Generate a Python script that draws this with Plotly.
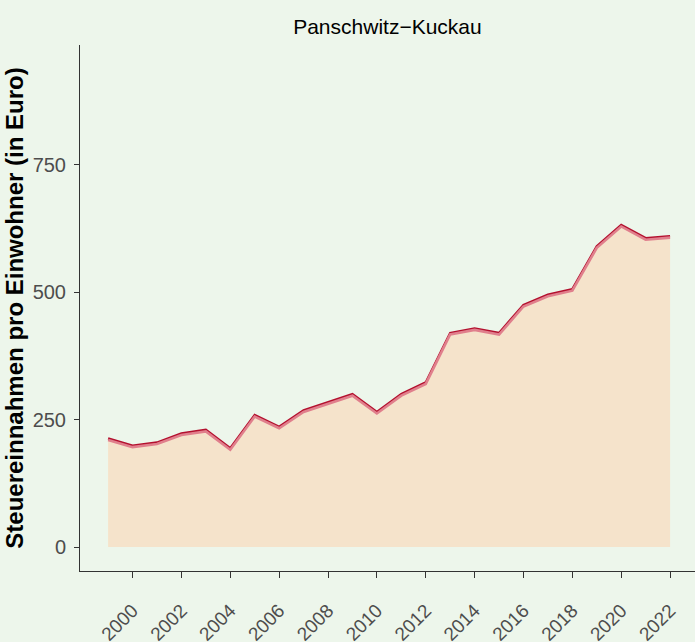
import plotly.graph_objects as go

years = list(range(1999, 2023))
values = [213, 199, 205, 223, 230, 194, 259, 236, 268, 284, 300, 265,
          300, 323, 420, 429, 420, 475, 495, 506, 590, 632, 606, 610]
tick_years = list(range(2000, 2023, 2))
tick_labels = [str(y) for y in tick_years]

title_text = "Panschwitz\u2212Kuckau"
y_title = "Steuereinnahmen pro Einwohner (in Euro)"

bg = "#EDF6EB"
fill_col = "#F5E3CB"
line_dark = "#B3102E"
line_shadow = "#E07F8C"
FONT = "Liberation Sans, Arial, sans-serif"

fig = go.Figure()
fig.add_trace(go.Scatter(x=years, y=values, mode="none", fill="tozeroy",
                         fillcolor=fill_col, hoverinfo="skip", showlegend=False))
fig.add_trace(go.Scatter(x=years, y=values, mode="lines", yaxis="y2",
                         line=dict(color=line_shadow, width=2.6), showlegend=False))
fig.add_trace(go.Scatter(x=years, y=values, mode="lines",
                         line=dict(color=line_dark, width=2.4), showlegend=False))

yr = [-47, 985]
fig.update_layout(
    width=695, height=642,
    paper_bgcolor=bg, plot_bgcolor=bg,
    margin=dict(l=80, r=0, t=45, b=71),
    font=dict(family=FONT, color="#4D4D4D"),
    title=dict(text=title_text, x=0.5575, xanchor="center", y=0.958, yanchor="middle",
               font=dict(family=FONT, size=21, color="#000000")),
    xaxis=dict(range=[1997.85, 2023.02], tickvals=tick_years, ticktext=tick_labels,
               tickangle=-45, ticks="outside", ticklen=6, tickcolor="#333333", tickwidth=1,
               showline=True, linecolor="#333333", linewidth=1, showgrid=False, zeroline=False,
               tickfont=dict(size=19, color="#4D4D4D"), ticklabelstandoff=14,
               automargin=False),
    yaxis=dict(range=yr, tickvals=[0, 250, 500, 750], ticks="outside", ticklen=5,
               tickcolor="#333333", showline=True, linecolor="#333333", linewidth=1,
               showgrid=False, zeroline=False, tickfont=dict(size=20, color="#4D4D4D"),
               ticklabelstandoff=4, automargin=False,
               title=dict(text="<b>" + y_title + "</b>", font=dict(size=24, color="#000000"),
                          standoff=2)),
    yaxis2=dict(range=[yr[0] + 3, yr[1] + 3], overlaying="y", visible=False),
)
fig.write_html("out.html", config={"displayModeBar": False},
               post_script="document.body.style.margin='0';document.body.style.background='#EDF6EB';")
